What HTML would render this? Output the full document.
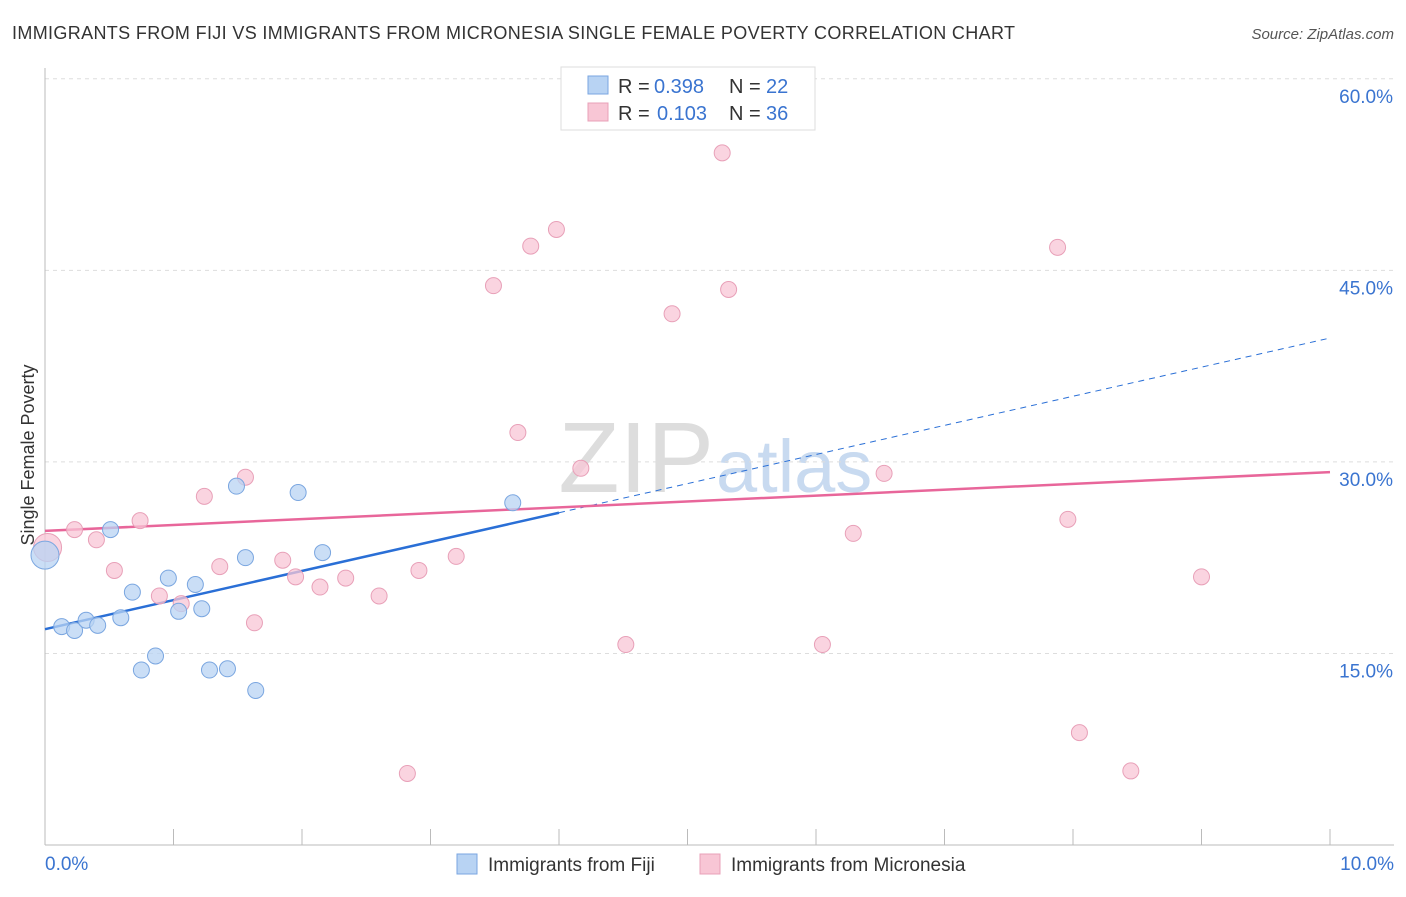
<!DOCTYPE html>
<html><head><meta charset="utf-8"><style>
body{margin:0;background:#fff;font-family:"Liberation Sans",sans-serif;}
svg text{font-family:"Liberation Sans",sans-serif;}
</style></head><body>
<svg id="chart" width="1406" height="892">
<text x="12" y="39" font-size="18" fill="#333" textLength="1003">IMMIGRANTS FROM FIJI VS IMMIGRANTS FROM MICRONESIA SINGLE FEMALE POVERTY CORRELATION CHART</text>
<text x="1394" y="39" font-size="15" fill="#555" font-style="italic" text-anchor="end">Source: ZipAtlas.com</text>
<text x="714" y="492" font-size="100" fill="#ddd" text-anchor="end" font-family="Liberation Serif">ZIP</text>
<text x="716" y="492" font-size="74" fill="#c8daf0">atlas</text>
<text x="34" y="455" font-size="18" fill="#333" transform="rotate(-90 34 455)" text-anchor="middle">Single Female Poverty</text>
<g id="grid"></g><g id="axes"></g><g id="lines"></g><g id="pts"></g>
<g>
<rect x="561" y="67" width="254" height="63" fill="#fff" stroke="#ddd"/>
<rect x="588" y="76" width="20" height="18" fill="#b8d3f3" stroke="#7aa6e0"/>
<text x="618" y="93" font-size="20" fill="#333">R =</text>
<text x="654" y="93" font-size="20" fill="#3a74d0">0.398</text>
<text x="729" y="93" font-size="20" fill="#333">N =</text>
<text x="766" y="93" font-size="20" fill="#3a74d0">22</text>
<rect x="588" y="103" width="20" height="18" fill="#f8c6d5" stroke="#e8a0b8"/>
<text x="618" y="120" font-size="20" fill="#333">R =</text>
<text x="657" y="120" font-size="20" fill="#3a74d0">0.103</text>
<text x="729" y="120" font-size="20" fill="#333">N =</text>
<text x="766" y="120" font-size="20" fill="#3a74d0">36</text>
</g>
<g>
<rect x="457" y="854" width="20" height="20" fill="#b8d3f3" stroke="#7aa6e0"/>
<text x="488" y="871" font-size="19" fill="#333">Immigrants from Fiji</text>
<rect x="700" y="854" width="20" height="20" fill="#f8c6d5" stroke="#e8a0b8"/>
<text x="731" y="871" font-size="19" fill="#333">Immigrants from Micronesia</text>
</g>
</svg>
<script>
const yTicks=[15,30,45,60];
const xTickLabels=["0.0%","10.0%"];
const fijiX=[0.0,0.13,0.23,0.32,0.41,0.51,0.59,0.68,0.75,0.86,0.96,1.04,1.17,1.22,1.28,1.42,1.49,1.56,1.64,1.97,2.16,3.64];
const fijiY=[22.7,17.1,16.8,17.6,17.2,24.7,17.8,19.8,13.7,14.8,20.9,18.3,20.4,18.5,13.7,13.8,28.1,22.5,12.1,27.6,22.9,26.8];
const micX=[0.02,0.23,0.40,0.54,0.74,0.89,1.06,1.24,1.36,1.56,1.63,1.85,1.95,2.14,2.34,2.60,2.82,2.91,3.20,3.49,3.68,3.78,3.98,4.17,4.52,4.88,5.27,5.32,6.05,6.29,6.53,7.88,7.96,8.05,8.45,9.00];
const micY=[23.3,24.7,23.9,21.5,25.4,19.5,18.9,27.3,21.8,28.8,17.4,22.3,21.0,20.2,20.9,19.5,5.6,21.5,22.6,43.8,32.3,46.9,48.2,29.5,15.7,41.6,54.2,43.5,15.7,24.4,29.1,46.8,25.5,8.8,5.8,21.0];
const fijiTrend=[16.9,2.28];
const micTrend=[24.6,0.46];
const fijiSolidEnd=4.0;
const X=v=>45+v*128.5, Y=v=>845-v*12.77;
const NS="http://www.w3.org/2000/svg";
function mk(tag,par,at){const e=document.createElementNS(NS,tag);for(const k in at)e.setAttribute(k,at[k]);document.getElementById(par).appendChild(e);return e;}
yTicks.forEach(t=>{
 const g=mk('line','grid',{x1:45,x2:1394,y1:Y(t),y2:Y(t),stroke:'#ddd','stroke-dasharray':'4 4'});
 
 
 const l=mk('text','grid',{x:1393,y:Y(t)+24,'font-size':19,fill:'#3a74d0','text-anchor':'end'});
 l.textContent=t.toFixed(1)+'%';
 
 
});
const ya=mk('line','axes',{x1:45,x2:45,y1:68,y2:845,stroke:'#bbb'});


const xa=mk('line','axes',{x1:45,x2:1394,y1:845,y2:845,stroke:'#bbb'});


for(let i=0;i<=10;i++){const t=mk('line','axes',{x1:X(i),x2:X(i),y1:829,y2:845,stroke:'#bbb'});
 
 }
[[0,'start',45],[10,'end',1394]].forEach((d,i)=>{const t=mk('text','axes',{x:d[2],y:870,'font-size':19,fill:'#3a74d0','text-anchor':d[1]});t.textContent=xTickLabels[i];
 
 });
function pts(xs,ys,fill,stroke,name){xs.forEach((x,i)=>{const c=mk('circle','pts',{cx:X(x),cy:Y(ys[i]),r:(i==0&&x<0.05)?14:8,fill:fill,stroke:stroke,'fill-opacity':0.75,'stroke-width':1});
 
 });}
pts(micX,micY,'#f8c6d5','#e8a0b8','micronesia-point');
pts(fijiX,fijiY,'#b8d3f3','#7aa6e0','fiji-point');
const f=x=>fijiTrend[0]+fijiTrend[1]*x, m=x=>micTrend[0]+micTrend[1]*x;
const l1=mk('line','lines',{x1:X(0),y1:Y(f(0)),x2:X(fijiSolidEnd),y2:Y(f(fijiSolidEnd)),stroke:'#2a6fd6','stroke-width':2.5});


const l2=mk('line','lines',{x1:X(fijiSolidEnd),y1:Y(f(fijiSolidEnd)),x2:X(10),y2:Y(f(10)),stroke:'#2a6fd6','stroke-width':1,'stroke-dasharray':'6 5'});


const l3=mk('line','lines',{x1:X(0),y1:Y(m(0)),x2:X(10),y2:Y(m(10)),stroke:'#e8669a','stroke-width':2.5});


</script>
</body></html>
